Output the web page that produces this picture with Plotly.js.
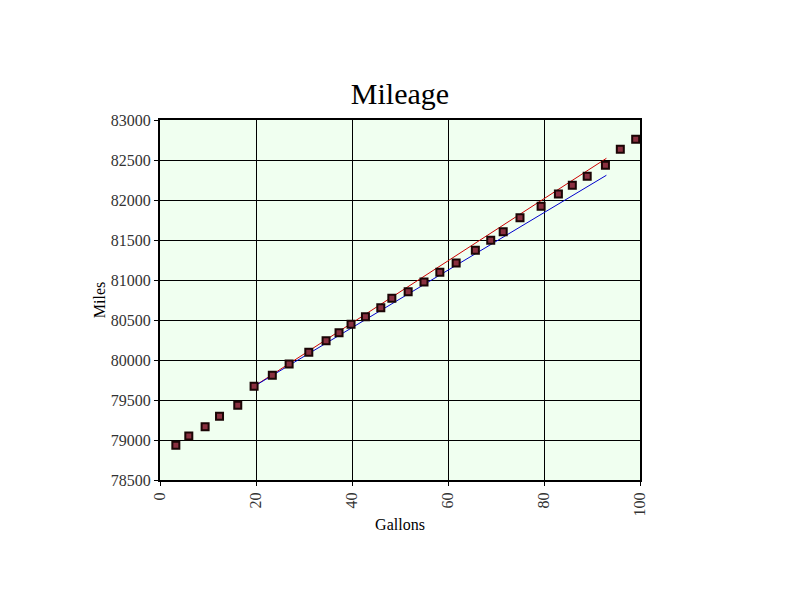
<!DOCTYPE html>
<html>
<head>
<meta charset="utf-8">
<script src="https://cdn.plot.ly/plotly-3.0.1.min.js"></script>
<style>html,body{margin:0;padding:0;background:#fff;}#chart{width:800px;height:600px;}</style>
</head>
<body>
<div id="chart"></div>
<script>
const gallons = [3.3, 6.0, 9.4, 12.4, 16.2, 19.6, 23.4, 26.9, 31.0, 34.6, 37.3, 39.8, 42.8, 46.0, 48.3, 51.7, 55.0, 58.3, 61.7, 65.7, 68.9, 71.5, 75.0, 79.4, 83.0, 85.9, 89.0, 92.8, 95.9, 99.1];
const miles = [78933, 79050, 79167, 79296, 79433, 79671, 79808, 79950, 80096, 80241, 80341, 80446, 80541, 80654, 80771, 80854, 80975, 81096, 81212, 81371, 81496, 81604, 81779, 81921, 82075, 82183, 82296, 82433, 82633, 82758];
const redLineX = [19.6, 93.0];
const redLineY = [79671, 82521];
const blueLineX = [19.6, 93.0];
const blueLineY = [79671, 82309];

const serif = "Liberation Serif, Times New Roman, serif";

const traces = [
  {x: redLineX, y: redLineY, mode: 'lines', type: 'scatter', line: {color: '#cc0000', width: 1}, hoverinfo: 'skip'},
  {x: blueLineX, y: blueLineY, mode: 'lines', type: 'scatter', line: {color: '#0000cc', width: 1}, hoverinfo: 'skip'},
  {x: gallons, y: miles, mode: 'markers', type: 'scatter',
   marker: {symbol: 'square', size: 7, color: '#8a3040', line: {color: '#1a0505', width: 2}}}
];

const layout = {
  width: 800, height: 600,
  showlegend: false,
  paper_bgcolor: '#ffffff',
  plot_bgcolor: '#f0fff0',
  margin: {l: 160, r: 160, t: 120, b: 120, pad: 0},
  title: {text: 'Mileage', font: {family: serif, size: 30, color: '#000'}, x: 0.5, xanchor: 'center', y: 0.845, yanchor: 'middle'},
  xaxis: {
    range: [0, 100], dtick: 20, tick0: 0,
    showgrid: true, gridcolor: '#000', gridwidth: 1,
    zeroline: false, showline: true, linecolor: '#000', linewidth: 2, mirror: true,
    ticks: 'outside', ticklen: 4, tickcolor: '#000', tickangle: -90,
    tickfont: {family: serif, size: 16, color: '#333'},
    title: {text: 'Gallons', font: {family: serif, size: 16, color: '#000'}, standoff: 3}
  },
  yaxis: {
    range: [78500, 83000], dtick: 500, tick0: 78500,
    showgrid: true, gridcolor: '#000', gridwidth: 1,
    zeroline: false, showline: true, linecolor: '#000', linewidth: 2, mirror: true,
    ticks: 'outside', ticklen: 4, tickcolor: '#000',
    tickfont: {family: serif, size: 16, color: '#333'},
    tickformat: 'd',
    title: {text: 'Miles', font: {family: serif, size: 16, color: '#000'}, standoff: 1}
  }
};

Plotly.newPlot('chart', traces, layout, {staticPlot: true, displayModeBar: false});
</script>
</body>
</html>
